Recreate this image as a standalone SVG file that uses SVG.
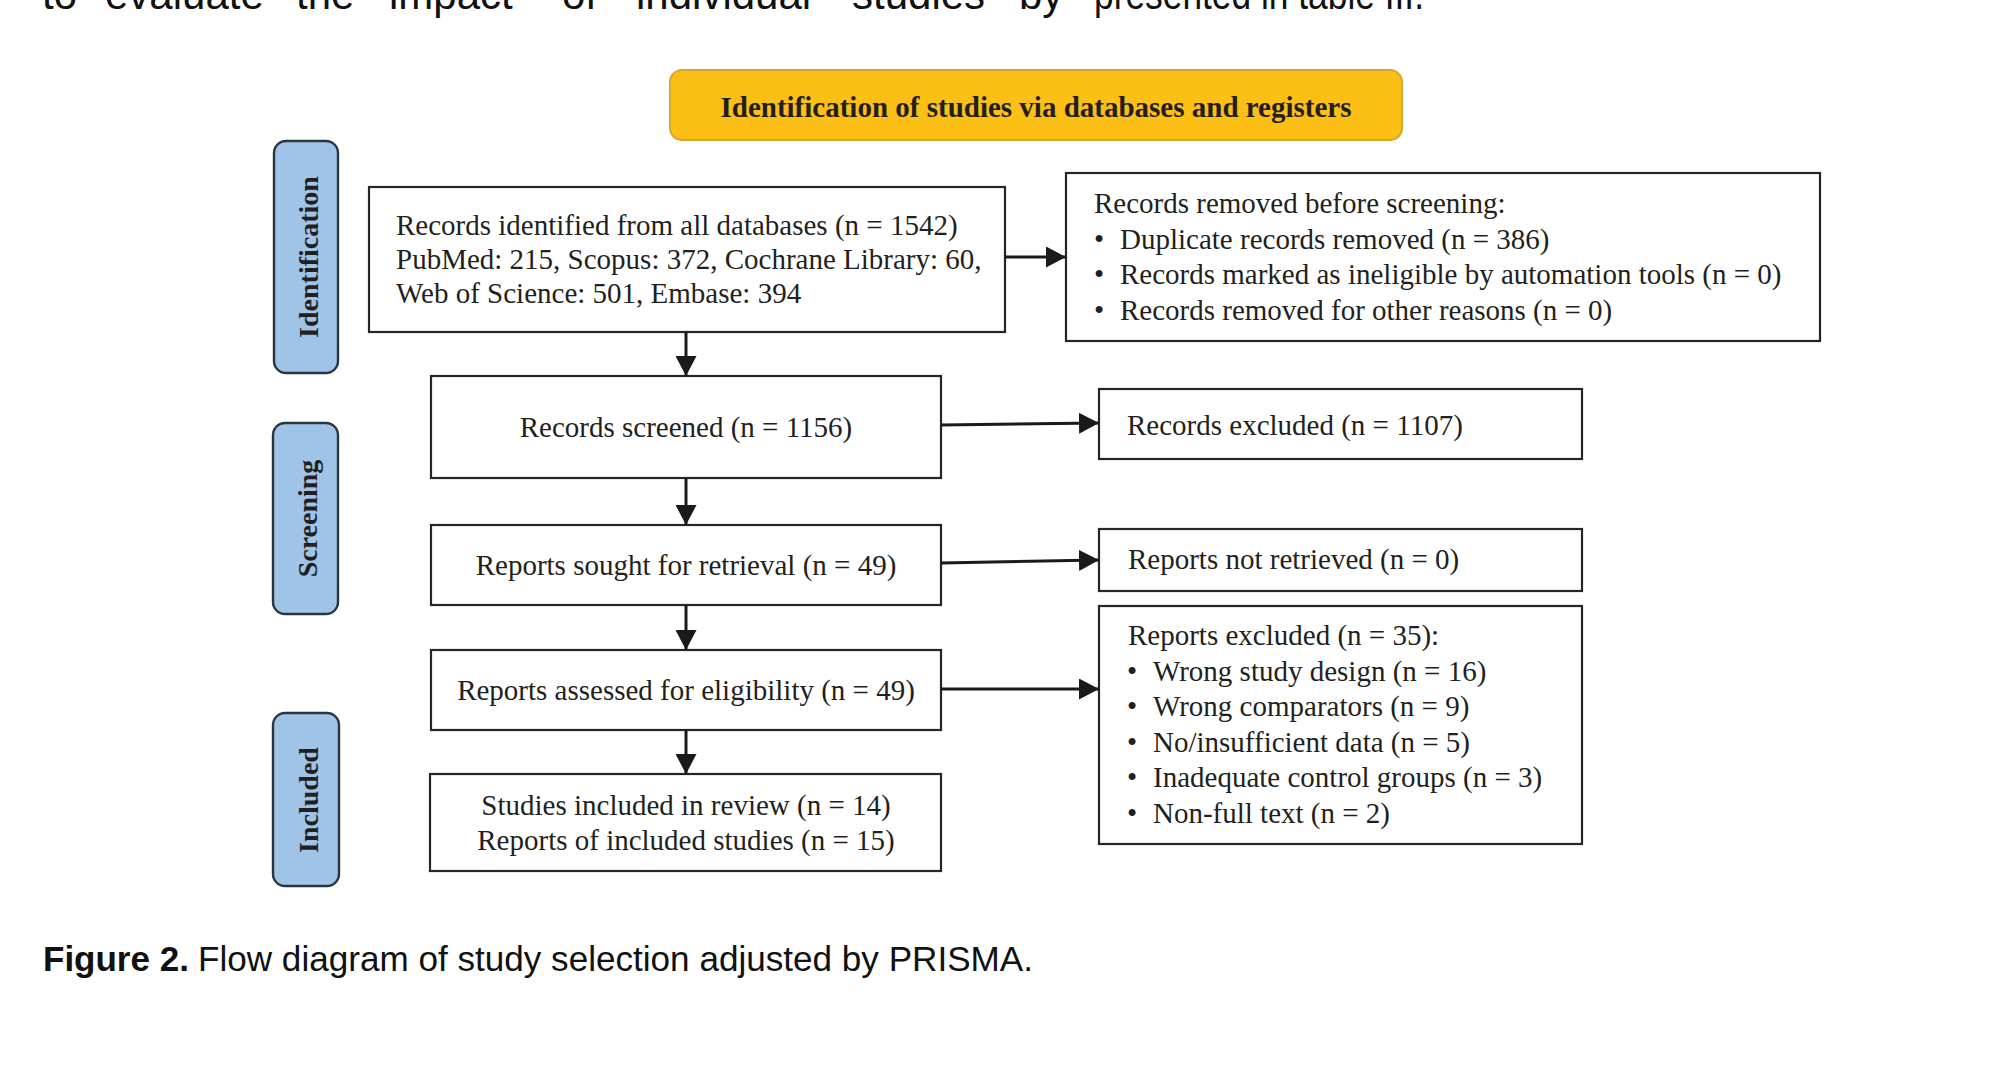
<svg xmlns="http://www.w3.org/2000/svg" width="2000" height="1072" viewBox="0 0 2000 1072">
<defs>
<style>
.box{fill:#ffffff;stroke:#262626;stroke-width:2.2}
.lab{fill:#9fc4e7;stroke:#2b3540;stroke-width:2.4}
.ttl{fill:#fbbf16;stroke:#d6a72a;stroke-width:2}
.t{font-family:"Liberation Serif","Times New Roman",serif;font-size:29px;fill:#231f20}
.tb{font-family:"Liberation Serif","Times New Roman",serif;font-size:29px;font-weight:bold;fill:#231f20}
.lt{font-family:"Liberation Serif","Times New Roman",serif;font-size:28px;font-weight:bold;fill:#231f20}
.c{stroke:#1a1a1a;stroke-width:3;fill:none;marker-end:url(#ah)}
.body{font-family:"Liberation Sans",Arial,sans-serif;font-size:42px;fill:#111111}
.cap{font-family:"Liberation Sans",Arial,sans-serif;font-size:35px;fill:#111111}
</style>
<marker id="ah" markerUnits="userSpaceOnUse" markerWidth="20" markerHeight="21" refX="20" refY="10.5" orient="auto" viewBox="0 0 20 21">
<path d="M0,0 L20,10.5 L0,21 Z" fill="#1a1a1a"/>
</marker>
</defs>
<rect x="0" y="0" width="2000" height="1072" fill="#ffffff"/>

<!-- cut-off body text at top -->
<text class="body" y="9"><tspan x="42">to</tspan><tspan x="105">evaluate</tspan><tspan x="296">the</tspan><tspan x="389">impact</tspan><tspan x="562">of</tspan><tspan x="636">individual</tspan><tspan x="852">studies</tspan><tspan x="1019">by</tspan></text>
<text class="body" x="1094" y="9" textLength="330" lengthAdjust="spacingAndGlyphs">presented in table III.</text>

<!-- title -->
<g id="title">
<rect class="ttl" x="670" y="70" width="732" height="70" rx="12" ry="12"/>
<text class="tb" x="1036" y="117" text-anchor="middle">Identification of studies via databases and registers</text>
</g>

<!-- phase labels -->
<g id="label-identification">
<rect class="lab" x="274" y="141" width="64" height="232" rx="12" ry="12"/>
<text class="lt" transform="translate(318,257) rotate(-90)" text-anchor="middle">Identification</text>
</g>
<g id="label-screening">
<rect class="lab" x="273" y="423" width="65" height="191" rx="12" ry="12"/>
<text class="lt" transform="translate(317,518.5) rotate(-90)" text-anchor="middle">Screening</text>
</g>
<g id="label-included">
<rect class="lab" x="273" y="713" width="66" height="173" rx="12" ry="12"/>
<text class="lt" transform="translate(318,800) rotate(-90)" text-anchor="middle">Included</text>
</g>

<!-- nodes -->
<g id="records-identified">
<rect class="box" x="369" y="187" width="636" height="145"/>
<text class="t" x="396" y="235">Records identified from all databases (n = 1542)</text>
<text class="t" x="396" y="269">PubMed: 215, Scopus: 372, Cochrane Library: 60,</text>
<text class="t" x="396" y="303">Web of Science: 501, Embase: 394</text>
</g>

<g id="records-removed">
<rect class="box" x="1066" y="173" width="754" height="168"/>
<text class="t" x="1094" y="213">Records removed before screening:</text>
<text class="t" y="248.5"><tspan x="1094">•</tspan><tspan x="1120">Duplicate records removed (n = 386)</tspan></text>
<text class="t" y="284"><tspan x="1094">•</tspan><tspan x="1120">Records marked as ineligible by automation tools (n = 0)</tspan></text>
<text class="t" y="319.5"><tspan x="1094">•</tspan><tspan x="1120">Records removed for other reasons (n = 0)</tspan></text>
</g>

<g id="records-screened">
<rect class="box" x="431" y="376" width="510" height="102"/>
<text class="t" x="686" y="437" text-anchor="middle">Records screened (n = 1156)</text>
</g>

<g id="records-excluded">
<rect class="box" x="1099" y="389" width="483" height="70"/>
<text class="t" x="1127" y="435">Records excluded (n = 1107)</text>
</g>

<g id="reports-sought">
<rect class="box" x="431" y="525" width="510" height="80"/>
<text class="t" x="686" y="575" text-anchor="middle">Reports sought for retrieval (n = 49)</text>
</g>

<g id="reports-not-retrieved">
<rect class="box" x="1099" y="529" width="483" height="62"/>
<text class="t" x="1128" y="569">Reports not retrieved (n = 0)</text>
</g>

<g id="reports-assessed">
<rect class="box" x="431" y="650" width="510" height="80"/>
<text class="t" x="686" y="700" text-anchor="middle">Reports assessed for eligibility (n = 49)</text>
</g>

<g id="reports-excluded">
<rect class="box" x="1099" y="606" width="483" height="238"/>
<text class="t" x="1128" y="645">Reports excluded (n = 35):</text>
<text class="t" y="681"><tspan x="1127">•</tspan><tspan x="1153">Wrong study design (n = 16)</tspan></text>
<text class="t" y="716"><tspan x="1127">•</tspan><tspan x="1153">Wrong comparators (n = 9)</tspan></text>
<text class="t" y="752"><tspan x="1127">•</tspan><tspan x="1153">No/insufficient data (n = 5)</tspan></text>
<text class="t" y="787"><tspan x="1127">•</tspan><tspan x="1153">Inadequate control groups (n = 3)</tspan></text>
<text class="t" y="823"><tspan x="1127">•</tspan><tspan x="1153">Non-full text (n = 2)</tspan></text>
</g>

<g id="studies-included">
<rect class="box" x="430" y="774" width="511" height="97"/>
<text class="t" x="686" y="815" text-anchor="middle">Studies included in review (n = 14)</text>
<text class="t" x="686" y="850" text-anchor="middle">Reports of included studies (n = 15)</text>
</g>

<!-- connectors -->
<g id="connectors">
<line class="c" x1="1005" y1="257" x2="1066" y2="257"/>
<line class="c" x1="686" y1="332" x2="686" y2="376"/>
<line class="c" x1="941" y1="425" x2="1099" y2="423"/>
<line class="c" x1="686" y1="478" x2="686" y2="525"/>
<line class="c" x1="941" y1="563" x2="1099" y2="560"/>
<line class="c" x1="686" y1="605" x2="686" y2="650"/>
<line class="c" x1="941" y1="689" x2="1099" y2="689"/>
<line class="c" x1="686" y1="730" x2="686" y2="774"/>
</g>

<!-- caption -->
<text class="cap" y="971"><tspan x="43" font-weight="bold">Figure 2.</tspan><tspan x="198" textLength="835" lengthAdjust="spacingAndGlyphs">Flow diagram of study selection adjusted by PRISMA.</tspan></text>
</svg>
